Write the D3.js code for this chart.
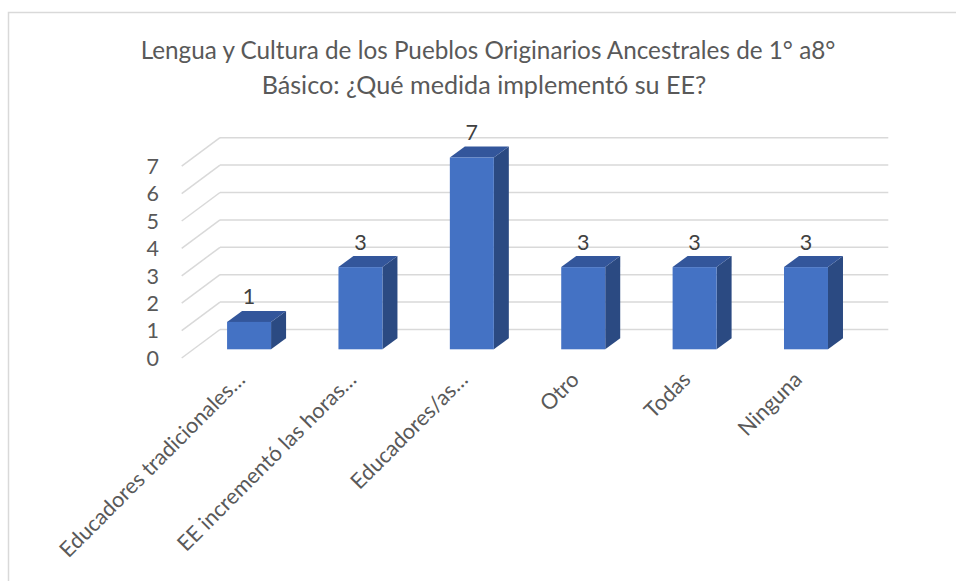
<!DOCTYPE html>
<html>
<head>
<meta charset="utf-8">
<script src="https://cdn.jsdelivr.net/npm/d3@7/dist/d3.min.js"></script>
<style>
  html, body { margin: 0; padding: 0; background: #fff; }
  svg { display: block; }
</style>
</head>
<body>
<svg id="chart" width="956" height="581"></svg>
<script>
// ---- data ----
const titleLines = ["Lengua y Cultura de los Pueblos Originarios Ancestrales de 1° a8°", "Básico: ¿Qué medida implementó su EE?"];
const categories = ["Educadores tradicionales…", "EE incrementó las horas…", "Educadores/as…", "Otro", "Todas", "Ninguna"];
const values = [1, 3, 7, 3, 3, 3];
const yTicks = [0, 1, 2, 3, 4, 5, 6, 7];

// ---- layout ----
const FONT = "Lato, 'Open Sans', sans-serif";
const TXT = "#595959";
const GRID = "#d9d9d9";
const svg = d3.select("#chart");

svg.append("rect").attr("x", 8.5).attr("y", 12.5).attr("width", 1000).attr("height", 1000)
  .attr("fill", "none").attr("stroke", GRID).attr("stroke-width", 1.5);

const front = { x0: 181.7, x1: 850, y0: 358, y7: 166.2 };
const DX = 38.3, DY = -28.5;
const F = 0.305;
const BDX = 15, BDY = -11;

const x = d3.scaleBand().domain(categories).range([front.x0, front.x1]).padding(0);
const y = d3.scaleLinear().domain([0, 7]).range([front.y0, front.y7]);

const g = svg.append("g");
yTicks.forEach(t => {
  g.append("line")
    .attr("x1", front.x0 + DX).attr("x2", front.x1 + DX)
    .attr("y1", y(t) + DY).attr("y2", y(t) + DY)
    .attr("stroke", GRID).attr("stroke-width", 1.5);
  g.append("line")
    .attr("x1", front.x0).attr("x2", front.x0 + DX)
    .attr("y1", y(t)).attr("y2", y(t) + DY)
    .attr("stroke", GRID).attr("stroke-width", 1.5);
});

svg.append("g").selectAll("text").data(yTicks).join("text")
  .attr("x", 159).attr("y", d => y(d))
  .attr("dy", "0.36em")
  .attr("text-anchor", "end")
  .attr("font-family", FONT).attr("font-size", 21.5).attr("fill", TXT)
  .text(d => d);

const bw = x.bandwidth() * 0.395;
const bars = svg.append("g").selectAll("g").data(categories).join("g");
bars.each(function(c, i) {
  const v = values[i];
  const cx = x(c) + x.bandwidth() / 2 + F * DX;
  const xl = cx - bw / 2, xr = cx + bw / 2;
  const yb = y(0) + F * DY, yt = y(v) + F * DY;
  const gg = d3.select(this);
  gg.append("path").attr("d", `M${xr},${yt}L${xr + BDX},${yt + BDY}L${xr + BDX},${yb + BDY}L${xr},${yb}Z`)
    .attr("fill", "#2b4a82");
  gg.append("path").attr("d", `M${xl},${yt}L${xl + BDX},${yt + BDY}L${xr + BDX},${yt + BDY}L${xr},${yt}Z`)
    .attr("fill", "#33569b");
  gg.append("rect").attr("x", xl).attr("y", yt).attr("width", bw).attr("height", yb - yt)
    .attr("fill", "#4472c4");
  gg.append("text").attr("x", cx).attr("y", yt + BDY - 6.5)
    .attr("text-anchor", "middle")
    .attr("font-family", FONT).attr("font-size", 21.5).attr("fill", "#404040")
    .text(v);
});

// title, each line fitted to its width in the reference
const title = svg.append("g");
function fitLine(txt, cx, by, width) {
  const t = title.append("text").attr("x", cx).attr("y", by).attr("text-anchor", "middle")
    .attr("font-family", FONT).attr("font-size", 20).attr("fill", TXT).text(txt);
  const w = t.node().getComputedTextLength();
  t.attr("font-size", 20 * width / w);
  return 20 * width / w;
}
const fs = fitLine(titleLines[0], 488, 59, 695);
fitLine(titleLines[1], 484, 94, 445);

// x axis labels
svg.append("g").selectAll("text").data(categories).join("text")
  .attr("transform", c => `translate(${x(c) + x.bandwidth() / 2 + 9},${381}) rotate(-45)`)
  .attr("text-anchor", "end")
  .attr("font-family", FONT).attr("font-size", fs * 0.89).attr("fill", TXT)
  .text(c => c);
</script>
</body>
</html>
